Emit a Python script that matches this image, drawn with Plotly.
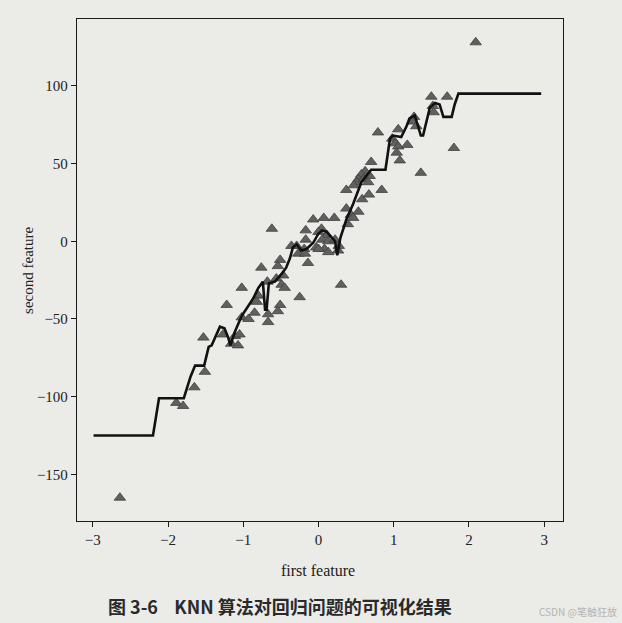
import plotly.graph_objects as go

# scatter data (first feature, second feature)
pts_x = [2.09, 1.50, 1.71, 1.52, 1.53, 1.27, 1.25, 1.30, 1.06, 0.79, 0.98, 1.02, 1.06, 1.18, 1.04,
         1.08, 1.80, 1.36, 0.70, 0.62, 0.57, 0.53, 0.51, 0.68, 0.60, 0.66, 0.47, 0.37, 0.58, 0.67,
         0.84, 0.37, 0.53, 0.43, 0.46, 0.39, -0.07, 0.07, 0.21, -0.17, -0.17, 0.04, 0.11, 0.05, 0.13,
         -0.03, 0.22, 0.27, 0.26, -0.19, 0.08, -0.62, -0.36, -0.29, -0.27, -0.18, -0.14, -0.51, -0.76,
         -0.54, -1.02, -0.68, -0.56, -0.47, -0.49, -0.45, -0.80, -1.22, -0.25, -0.51, 0.30, -0.82,
         -0.85, -0.54, -0.67, -0.67, -1.02, -0.93, -1.53, -1.27, -1.11, -1.05, -1.16, -1.07, -1.51,
         -1.65, -1.89, -1.80, -2.64, 0.00, 0.00, 0.13]
pts_y = [128, 93, 93, 87, 83, 80, 77, 74, 72, 70, 66, 63, 61, 62, 57,
         52, 60, 44, 51, 45, 43, 40, 38, 42, 40, 38, 36, 33, 27, 30,
         33, 21, 19, 17, 15, 11, 14, 15, 15, 7, 1, 8, 4, 1, 0,
         -4, 1, -3, -6, -5, -5, 8, -3, -3, -8, -8, -14, -12, -17,
         -16, -30, -26, -24, -22, -28, -30, -35, -41, -36, -41, -28, -39,
         -46, -45, -47, -52, -49, -50, -62, -60, -61, -60, -66, -67, -84,
         -94, -104, -106, -165, 6, -5, -7]

# KNN regression prediction line
line_x = [-2.99, -2.20, -2.12, -1.79, -1.70, -1.64, -1.52, -1.46, -1.42, -1.36, -1.31, -1.25,
          -1.20, -1.17, -1.11, -1.02, -0.87, -0.80, -0.74, -0.71, -0.69, -0.66, -0.58, -0.49,
          -0.43, -0.38, -0.34, -0.29, -0.23, -0.16, -0.07, 0.00, 0.05, 0.11, 0.16, 0.22, 0.25,
          0.29, 0.33, 0.37, 0.46, 0.51, 0.57, 0.70, 0.86, 0.89, 0.92, 0.95, 0.99, 1.10, 1.17,
          1.21, 1.28, 1.32, 1.36, 1.39, 1.44, 1.48, 1.55, 1.61, 1.66, 1.77, 1.81, 1.86, 2.96]
line_y = [-125, -125, -101, -101, -87, -80, -80, -68, -67, -60, -55, -56,
          -62, -67, -58, -48, -37, -30, -26, -44, -44, -27, -26, -21,
          -17, -11, -4, -2, -6, -5, -1, 5, 7, 6, 3, 0, -9,
          2, 8, 14, 24, 31, 38, 46, 46, 46, 56, 66, 68, 67, 74,
          79, 81, 74, 68, 68, 77, 86, 89, 88, 80, 80, 88, 95, 95]

x_ticks = [-3, -2, -1, 0, 1, 2, 3]
y_ticks = [100, 50, 0, -50, -100, -150]

fig = go.Figure()
fig.add_trace(go.Scatter(x=pts_x, y=pts_y, mode="markers",
                         marker=dict(symbol="triangle-up", size=10, color="#606060",
                                     line=dict(color="#404040", width=0.8)),
                         showlegend=False))
fig.add_trace(go.Scatter(x=line_x, y=line_y, mode="lines",
                         line=dict(color="#111111", width=2.6), showlegend=False))

axis_common = dict(showgrid=False, zeroline=False, showline=True, mirror=True,
                   linecolor="#1a1a1a", linewidth=1.3, ticks="outside", ticklen=5,
                   tickcolor="#1a1a1a",
                   tickfont=dict(family="Liberation Serif", size=15, color="#222222"))
fig.update_xaxes(range=[-3.21, 3.25], tickvals=x_ticks,
                 ticktext=["\u2212" + str(-v) if v < 0 else str(v) for v in x_ticks],
                 **axis_common)
fig.update_yaxes(range=[-180, 143], tickvals=y_ticks,
                 ticktext=["\u2212" + str(-v) if v < 0 else str(v) for v in y_ticks],
                 **axis_common)

fig.update_layout(
    width=622, height=623,
    margin=dict(l=77, r=59, t=19, b=102),
    paper_bgcolor="#ebebe8", plot_bgcolor="#ebebe8",
    annotations=[
        dict(text="first feature", xref="paper", yref="paper", x=0.496, y=-0.098,
             showarrow=False, xanchor="center", yanchor="middle",
             font=dict(family="Liberation Serif", size=16, color="#222222")),
        dict(text="second feature", xref="paper", yref="paper", x=-0.101, y=0.5,
             showarrow=False, xanchor="center", yanchor="middle", textangle=-90,
             font=dict(family="Liberation Serif", size=15, color="#222222")),
        dict(text="<b>图 3-6    KNN 算法对回归问题的可视化结果</b>", xref="paper", yref="paper",
             x=0.418, y=-0.169, showarrow=False, xanchor="center", yanchor="middle",
             font=dict(family="Noto Sans CJK SC", size=18, color="#2a2a2a")),
        dict(text="CSDN @笔触狂放", xref="paper", yref="paper",
             x=1.115, y=-0.18, showarrow=False, xanchor="right", yanchor="middle",
             font=dict(family="Noto Sans CJK SC", size=10, color="#b5b5b5")),
    ],
)

fig.write_html("out.html", config={"displayModeBar": False},
               post_script="document.body.style.margin='0';document.body.style.overflow='hidden';")
